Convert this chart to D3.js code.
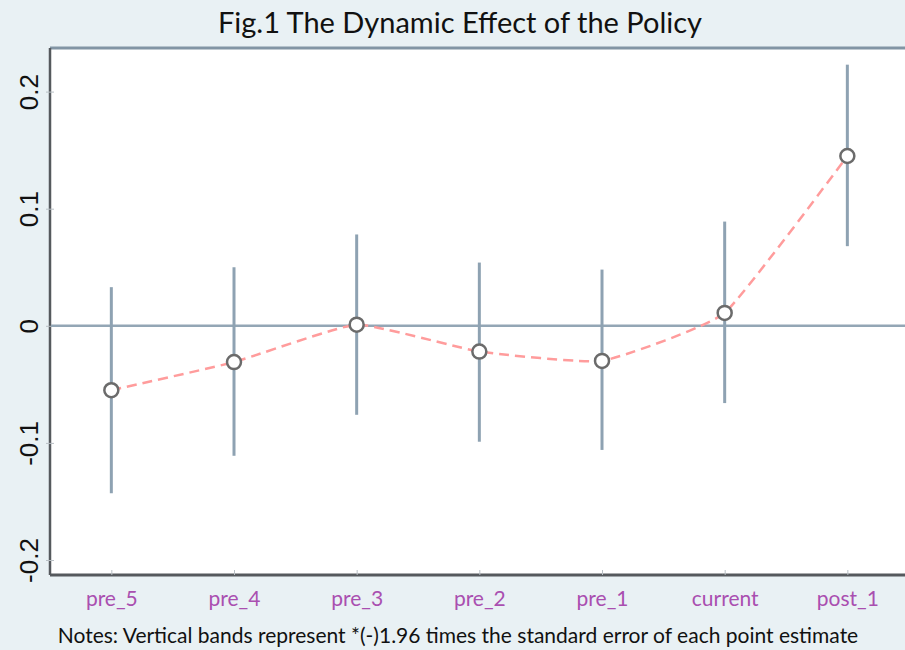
<!DOCTYPE html>
<html>
<head>
<meta charset="utf-8">
<script src="https://cdn.jsdelivr.net/npm/d3@7"></script>
<style>
  body { margin: 0; background: #e9f1f4; }
  svg { display: block; }
</style>
</head>
<body>
<div id="chart"></div>
<script>
// data
var periods = ['pre_5', 'pre_4', 'pre_3', 'pre_2', 'pre_1', 'current', 'post_1'];
var estimates = [-0.055, -0.031, 0.001, -0.022, -0.030, 0.011, 0.145];
var ciUpper = [0.033, 0.050, 0.078, 0.054, 0.048, 0.089, 0.223];
var ciLower = [-0.143, -0.111, -0.076, -0.099, -0.106, -0.066, 0.068];
var yTicks = [-0.2, -0.1, 0, 0.1, 0.2];

var W = 905, H = 650,
    pLeft = 50, pTop = 48, pBottom = 575, pRight = 910;

var svg = d3.select('#chart').append('svg')
  .attr('width', W).attr('height', H);

svg.append('rect').attr('width', W).attr('height', H).attr('fill', '#e9f1f4');

// plot area
svg.append('rect')
  .attr('x', pLeft).attr('y', pTop)
  .attr('width', pRight - pLeft).attr('height', pBottom - pTop)
  .attr('fill', '#ffffff');

var x = d3.scaleLinear().domain([-0.5, 6.47]).range([pLeft, pRight - 5]);
var y = d3.scaleLinear().domain([-0.2, 0.2]).range([560, 91.6]);

// borders
svg.append('line').attr('x1', pLeft).attr('x2', W).attr('y1', pTop).attr('y2', pTop)
  .attr('stroke', '#8295a4').attr('stroke-width', 3);
svg.append('line').attr('x1', pLeft).attr('x2', pLeft).attr('y1', pTop).attr('y2', pBottom)
  .attr('stroke', '#55595d').attr('stroke-width', 2.5);
svg.append('line').attr('x1', pLeft).attr('x2', W).attr('y1', pBottom).attr('y2', pBottom)
  .attr('stroke', '#55595d').attr('stroke-width', 3);

// y axis
var yAxis = svg.append('g')
  .attr('transform', 'translate(' + pLeft + ',0)')
  .call(d3.axisLeft(y).tickValues(yTicks).tickSize(4)
    .tickFormat(function (d) { return String(d); }));
yAxis.select('.domain').remove();
yAxis.selectAll('.tick line').attr('stroke', '#b8bfc4').attr('x2', 4).attr('x1', -4);
yAxis.selectAll('.tick text')
  .attr('transform', 'rotate(-90)')
  .attr('x', 0).attr('y', -12)
  .attr('dy', 0)
  .style('text-anchor', 'middle')
  .style('font-family', 'Liberation Sans, Arial, sans-serif')
  .style('font-size', '26px')
  .attr('fill', '#111');

// x axis
var xAxis = svg.append('g')
  .attr('transform', 'translate(0,' + pBottom + ')')
  .call(d3.axisBottom(x).tickValues(d3.range(periods.length)).tickSize(4)
    .tickFormat(function (i) { return periods[i]; }));
xAxis.select('.domain').remove();
xAxis.selectAll('.tick line').attr('stroke', '#b8bfc4').attr('y1', -5).attr('y2', 0);
xAxis.selectAll('.tick text')
  .attr('y', 31).attr('dy', 0)
  .style('font-family', 'Lato, Open Sans, sans-serif')
  .style('font-size', '21px')
  .attr('fill', '#a94fb0');

// zero line
svg.append('line')
  .attr('x1', pLeft + 1).attr('x2', W)
  .attr('y1', y(0)).attr('y2', y(0))
  .attr('stroke', '#93a6b5').attr('stroke-width', 2.5);

// confidence bands
svg.selectAll('.band')
  .data(periods)
  .enter()
  .append('line')
  .attr('class', 'band')
  .attr('x1', function (d, i) { return x(i); })
  .attr('x2', function (d, i) { return x(i); })
  .attr('y1', function (d, i) { return y(ciUpper[i]); })
  .attr('y2', function (d, i) { return y(ciLower[i]); })
  .attr('stroke', '#8ea2b2')
  .attr('stroke-width', 3);

// connecting line
var line = d3.line()
  .x(function (d, i) { return x(i); })
  .y(function (d) { return y(d); })
  .curve(d3.curveCardinal.tension(0.6));
svg.append('path')
  .datum(estimates)
  .attr('d', line)
  .attr('fill', 'none')
  .attr('stroke', '#ff9c9c')
  .attr('stroke-width', 2.5)
  .attr('stroke-dasharray', '10,6');

// point estimates
svg.selectAll('.pt')
  .data(estimates)
  .enter()
  .append('circle')
  .attr('class', 'pt')
  .attr('cx', function (d, i) { return x(i); })
  .attr('cy', function (d) { return y(d); })
  .attr('r', 7)
  .attr('fill', '#ffffff')
  .attr('stroke', '#6b6b6b')
  .attr('stroke-width', 2.5);

// title and notes
svg.append('text')
  .attr('x', 460).attr('y', 33)
  .attr('text-anchor', 'middle')
  .style('font-family', 'Lato, Open Sans, sans-serif')
  .style('font-size', '29px')
  .attr('fill', '#111')
  .text('Fig.1 The Dynamic Effect of the Policy');

svg.append('text')
  .attr('x', 458).attr('y', 643)
  .attr('text-anchor', 'middle')
  .style('font-family', 'Lato, Open Sans, sans-serif')
  .style('font-size', '21px')
  .attr('fill', '#111')
  .text('Notes: Vertical bands represent *(-)1.96 times the standard error of each point estimate');
</script>
</body>
</html>
